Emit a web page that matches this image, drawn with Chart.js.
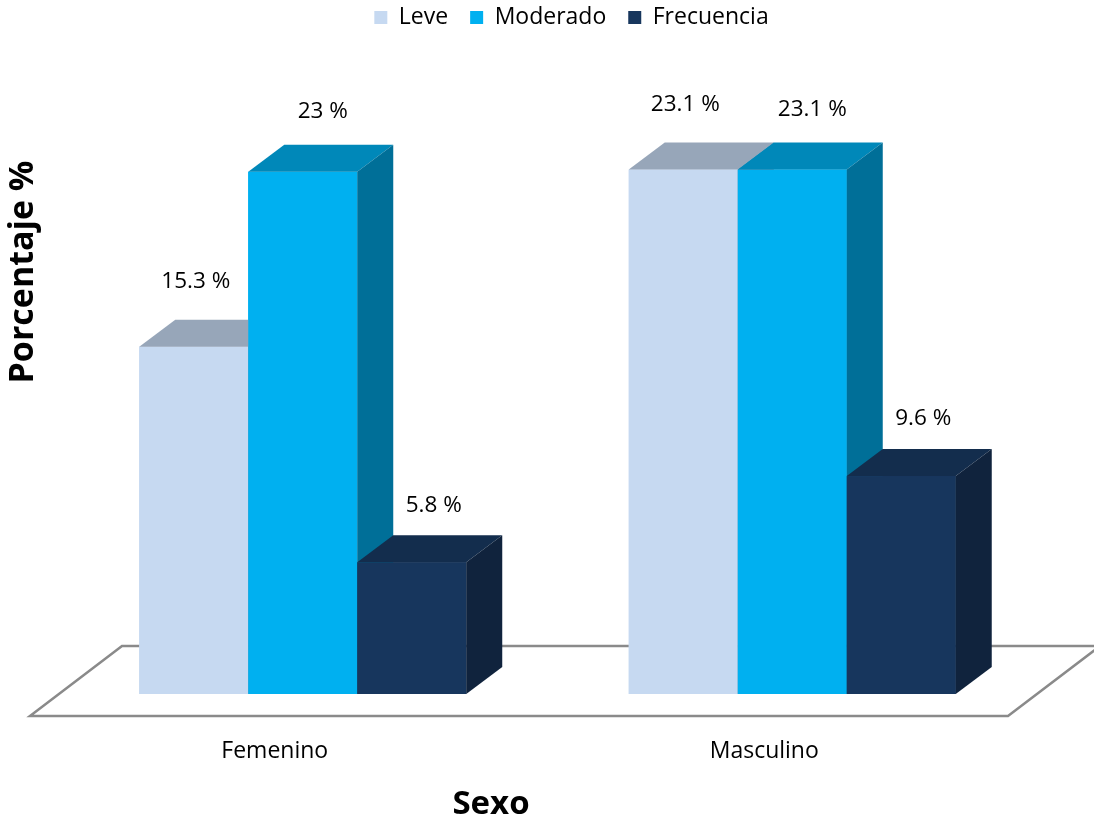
<!DOCTYPE html>
<html>
<head>
<meta charset="utf-8">
<script src="https://cdn.jsdelivr.net/npm/chart.js@4.4.0/dist/chart.umd.min.js"></script>
<style>
  html,body{margin:0;padding:0;background:#fff;}
  #wrap{width:1094px;height:825px;position:relative;}
</style>
</head>
<body>
<div id="wrap"><canvas id="chart"></canvas></div>
<script>
const categories = ["Femenino", "Masculino"];
const seriesNames = ["Leve", "Moderado", "Frecuencia"];
const leveData = [15.3, 23.1];
const moderadoData = [23, 23.1];
const frecuenciaData = [5.8, 9.6];

// front / top / side colours for the fake 3d boxes
const frontColors = ["#C6D9F1", "#00B0F0", "#17365D"];
const topColors = ["#97A6B9", "#0088B9", "#132D4D"];
const sideColors = ["#7F8FA3", "#006F98", "#10233D"];
// where the value label sits relative to the bar top, per series
const labelDx = [2, 20, 22];
const labelDy = [-65, -60, -57];

const depthX = 36, depthY = -27;
const yMax = 28.85; // hidden axis, just sets the bar scale

const box3d = {
  id: "box3d",
  afterLayout(chart) {
    // legend in the original sits a bit right of centre
    chart.legend.left += 24
    chart.legend.right += 24
  },
  beforeDatasetsDraw(chart) {
    const ctx = chart.ctx
    const a = chart.chartArea
    // floor plane
    const fy = a.bottom + 22
    const fl = a.left - 28, fr = a.right - 29
    ctx.save()
    ctx.beginPath()
    ctx.moveTo(fl, fy)
    ctx.lineTo(fl + 92, fy - 70)
    ctx.lineTo(fr + 92, fy - 70)
    ctx.lineTo(fr, fy)
    ctx.closePath()
    ctx.fillStyle = "#fff"
    ctx.fill()
    ctx.strokeStyle = "#8a8a8a"
    ctx.lineWidth = 2.5
    ctx.stroke()
    ctx.restore()
  },
  afterDatasetsDraw(chart) {
    const ctx = chart.ctx
    ctx.save()
    for (let i = 0; i < categories.length; i++) {
      for (let d = 0; d < chart.data.datasets.length; d++) {
        const bar = chart.getDatasetMeta(d).data[i]
        const x0 = bar.x - bar.width / 2, x1 = bar.x + bar.width / 2
        const top = bar.y, base = bar.base
        // front
        ctx.fillStyle = frontColors[d]
        ctx.fillRect(x0, top, x1 - x0, base - top)
        // top face
        ctx.fillStyle = topColors[d]
        ctx.beginPath()
        ctx.moveTo(x0, top)
        ctx.lineTo(x0 + depthX, top + depthY)
        ctx.lineTo(x1 + depthX, top + depthY)
        ctx.lineTo(x1, top)
        ctx.closePath()
        ctx.fill()
        // right side
        ctx.fillStyle = sideColors[d]
        ctx.beginPath()
        ctx.moveTo(x1, top)
        ctx.lineTo(x1 + depthX, top + depthY)
        ctx.lineTo(x1 + depthX, base + depthY)
        ctx.lineTo(x1, base)
        ctx.closePath()
        ctx.fill()
      }
    }
    // value labels
    ctx.fillStyle = "#000"
    ctx.font = "22.5px 'Open Sans'"
    ctx.textAlign = "center"
    ctx.textBaseline = "middle"
    chart.data.datasets.forEach((ds, d) => {
      chart.getDatasetMeta(d).data.forEach((bar, i) => {
        ctx.fillText(ds.data[i] + " %", bar.x + labelDx[d], bar.y + labelDy[d])
      })
    })
    ctx.restore()
  },
  afterDraw(chart) {
    const ctx = chart.ctx
    ctx.save()
    ctx.fillStyle = "#000"
    ctx.textAlign = "center"
    ctx.textBaseline = "middle"
    // x axis title, drawn here because it is off-centre in the original
    ctx.font = "bold 33px 'Open Sans'"
    ctx.fillText("Sexo", 491, 805)
    ctx.translate(23, 272)
    ctx.rotate(-Math.PI / 2)
    ctx.font = "bold 34px 'Open Sans'"
    ctx.fillText("Porcentaje %", 0, 0)
    ctx.restore()
  }
}

const datasets = [leveData, moderadoData, frecuenciaData].map((vals, d) => ({
  label: seriesNames[d],
  data: vals,
  backgroundColor: frontColors[d],
  borderWidth: 0,
  barPercentage: 1.0,
  categoryPercentage: 0.668
}))

new Chart(document.getElementById("chart"), {
  type: "bar",
  data: { labels: categories, datasets: datasets },
  options: {
    responsive: true,
    maintainAspectRatio: false,
    animation: false,
    layout: { padding: { left: 58, right: 57, top: -16, bottom: 0 } },
    scales: {
      x: {
        grid: { display: false },
        border: { display: false },
        ticks: { color: "#000", font: { family: "'Open Sans'", size: 23 }, padding: 36, labelOffset: -28 },
        afterFit: (scale) => { scale.height = 131 }
      },
      y: { display: false, min: 0, max: yMax }
    },
    plugins: {
      legend: {
        position: "top",
        labels: { color: "#000", boxWidth: 13, boxHeight: 13, font: { family: "'Open Sans'", size: 23 }, padding: 22 }
      },
      tooltip: { enabled: false }
    }
  },
  plugins: [box3d]
})
</script>
</body>
</html>
